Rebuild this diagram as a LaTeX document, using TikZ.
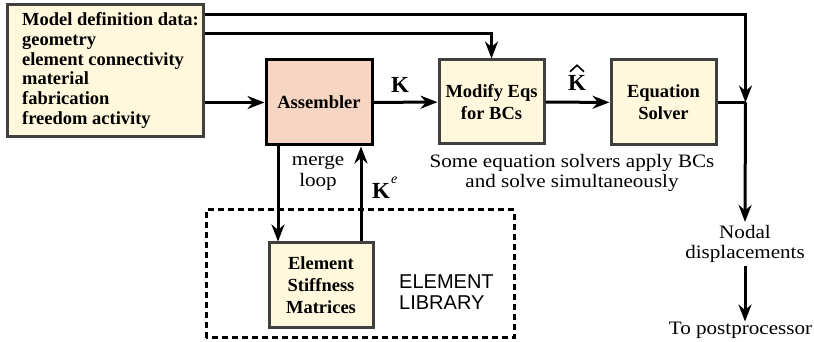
\documentclass[tikz,border=0pt]{standalone}
\usepackage{fontspec}
\setmainfont{Liberation Serif}
\setsansfont{Liberation Sans}
\newfontfamily\widerm[FakeStretch=1.11]{Liberation Serif}
\usetikzlibrary{arrows.meta}
\definecolor{boxfill}{RGB}{255,248,220}
\definecolor{asmfill}{RGB}{246,214,194}
\definecolor{boxline}{RGB}{64,64,64}
\begin{document}
\begin{tikzpicture}[x=1pt,y=1pt,
  box/.style={draw=boxline,line width=3pt,fill=boxfill,align=center,inner sep=0pt,
    font=\bfseries\fontsize{18.5}{22}\selectfont},
  flow/.style={line width=3pt,-{Stealth[length=17pt,width=13pt,inset=5.5pt]}},
  link/.style={line width=3pt},
  plain/.style={align=center,inner sep=0pt,font=\widerm\fontsize{19}{20.5}\selectfont},
  sym/.style={inner sep=0pt,font=\bfseries\fontsize{23}{23}\selectfont}]
\useasboundingbox (0,0) rectangle (814,342);

% blocks
\node[box,minimum width=196pt,minimum height=132pt,font=\bfseries\fontsize{18.5}{19.9}\selectfont] (model) at (105,271)
  {\hspace*{14pt}\begin{tabular}{@{}l@{}}Model definition data:\\geometry\\element connectivity\\material\\fabrication\\freedom activity\end{tabular}\hspace*{3pt}};
\node[box,draw=black,fill=asmfill,minimum width=106pt,minimum height=85pt] (asm) at (319,239.5) {Assembler};
\node[box,minimum width=105pt,minimum height=84pt] (modify) at (491.5,240) {Modify Eqs\\for BCs};
\node[box,minimum width=105pt,minimum height=85pt] (solver) at (663.5,239.5) {Equation\\Solver};
\node[box,minimum width=104pt,minimum height=85pt] (elem) at (321,56.5) {Element\\Stiffness\\Matrices};

% element library frame
\draw[line width=3pt,dash pattern=on 6pt off 4pt] (206,4) rectangle (514,132);
\node[anchor=west,align=left,inner sep=0pt,font=\sffamily\fontsize{20}{21}\selectfont] (lib) at (399,50) {ELEMENT\\LIBRARY};

% text labels
\node[plain] (caption) at (572,169) {Some equation solvers apply BCs\\and solve simultaneously};
\node[plain] (merge) at (318,169) {merge\\loop};
\node[plain,inner ysep=3pt] (nodal) at (745,98) {Nodal\\displacements};
\node[plain] (post) at (740.5,12) {To postprocessor};
\node[sym,anchor=base] (klab) at (400,249) {K};
\node[sym,anchor=base] (khat) at (577,251) {K};
\draw[line width=1.6pt] ([xshift=-7pt,yshift=4pt]khat.north) -- ([yshift=10.5pt]khat.north)
  -- ([xshift=7pt,yshift=4pt]khat.north);
\node[sym,anchor=base west] (kelab) at (372,143)
  {K\kern1pt\raisebox{15pt}{\fontsize{14}{14}\selectfont\mdseries\itshape e}};

% connectors
\coordinate (junc) at (745.5,239.5);
\draw[flow] (model.east |- asm.west) -- (asm.west);
\draw[flow] (asm) -- (modify);
\draw[flow] (modify) -- (solver);
\draw[link] (solver.east) -- (junc);
\draw[flow] (model.east |- 0,327) -| (junc);
\draw[flow] (model.east |- 0,308) -| (modify.north);
\draw[flow] (junc) -- (nodal.north);
\draw[flow] (nodal.south) -- (post.north -| nodal.south);
\draw[flow] (asm.south -| 278,0) -- (elem.north -| 278,0);
\draw[flow] (elem.north -| 361,0) -- (asm.south -| 361,0);
\end{tikzpicture}
\end{document}
